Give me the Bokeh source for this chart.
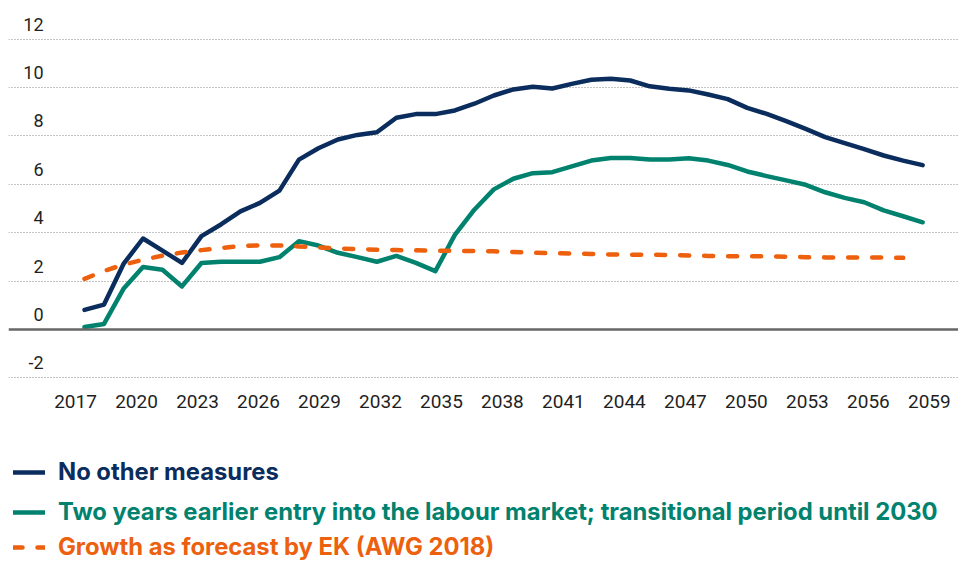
from bokeh.plotting import figure
from bokeh.models import Range1d, Span, Legend, LegendItem, FixedTicker, Grid
from bokeh.core.properties import value
from bokeh.embed import file_html
from bokeh.resources import INLINE

# ---------------- data ----------------
years = list(range(2017, 2061))
no_other_measures = [0.81, 1.03, 2.71, 3.76, 3.26, 2.75, 3.86, 4.34, 4.88, 5.23,
                     5.74, 7.02, 7.49, 7.85, 8.04, 8.15, 8.75, 8.90, 8.90, 9.05,
                     9.33, 9.67, 9.92, 10.03, 9.96, 10.15, 10.32, 10.36, 10.29, 10.05,
                     9.95, 9.88, 9.71, 9.52, 9.16, 8.91, 8.61, 8.29, 7.95, 7.70,
                     7.45, 7.19, 6.98, 6.79]
earlier_entry = [0.10, 0.23, 1.68, 2.58, 2.47, 1.78, 2.75, 2.80, 2.80, 2.80,
                 2.99, 3.65, 3.47, 3.17, 2.99, 2.80, 3.04, 2.75, 2.41, 3.91,
                 4.95, 5.79, 6.23, 6.46, 6.50, 6.74, 6.98, 7.09, 7.09, 7.02,
                 7.02, 7.08, 6.98, 6.80, 6.53, 6.34, 6.16, 5.98, 5.67, 5.44,
                 5.26, 4.92, 4.68, 4.43]
forecast_years = list(range(2017, 2060))
forecast_ek = [2.09, 2.42, 2.68, 2.88, 3.05, 3.18, 3.28, 3.37, 3.44, 3.48,
               3.47, 3.43, 3.39, 3.35, 3.32, 3.30, 3.28, 3.27, 3.26, 3.25,
               3.24, 3.23, 3.20, 3.17, 3.15, 3.14, 3.12, 3.10, 3.09, 3.09,
               3.08, 3.06, 3.04, 3.03, 3.03, 3.02, 3.01, 2.99, 2.98, 2.98,
               2.97, 2.97, 2.96]

y_ticks = [-2, 0, 2, 4, 6, 8, 10, 12]
y_tick_labels = ["-2", "0", "2", "4", "6", "8", "10", "12"]
x_tick_years = [2017, 2020, 2023, 2026, 2029, 2032, 2035, 2038, 2041, 2044,
                2047, 2050, 2053, 2056, 2059]
x_tick_labels = [str(y) for y in x_tick_years]

series_names = ["No other measures",
                "Two years earlier entry into the labour market; transitional period until 2030",
                "Growth as forecast by EK (AWG 2018)"]

# ---------------- style ----------------
NAVY = "#0a2d5d"
GREEN = "#00826e"
ORANGE = "#ec600e"
TICK_COLOR = "#1f1f1f"
FONT = "Roboto"
LEGEND_FONT = "Inter"

p = figure(width=958, height=561, output_backend="svg", toolbar_location=None,
           x_axis_location=None, y_axis_location=None,
           x_range=Range1d(2013.10, 2061.84), y_range=Range1d(-9.587, 13.595),
           min_border_left=8, min_border_right=0, min_border_top=0, min_border_bottom=0)
p.extra_x_ranges = {"labels": Range1d(2013.704, 2060.433)}
p.outline_line_color = None
p.background_fill_color = "white"
p.border_fill_color = "white"
p.xgrid.visible = False
p.ygrid.visible = False

grid = Grid(dimension=1, ticker=FixedTicker(ticks=[t for t in y_ticks if t != 0]),
            grid_line_color="#8a8a8a", grid_line_width=1, grid_line_dash="1 2")
p.add_layout(grid, "center")
p.add_layout(Span(location=0, dimension="width", line_color="#666666", line_width=2.5))

# y tick labels
p.text(x=[p.x_range.start] * len(y_ticks), y=y_ticks, text=y_tick_labels,
       x_offset=35, y_offset=-15, text_align="right", text_baseline="alphabetic",
       text_font=value(FONT), text_font_size="18px", text_color=TICK_COLOR)

# x tick labels
p.text(x=x_tick_years, y=[min(y_ticks)] * len(x_tick_years), text=x_tick_labels,
       x_range_name="labels", y_offset=24, text_align="center", text_baseline="alphabetic",
       text_font=value(FONT), text_font_size="19px", text_color=TICK_COLOR)

r1 = p.line(years, no_other_measures, line_color=NAVY, line_width=4.5,
            line_cap="round", line_join="round")
r2 = p.line(years, earlier_entry, line_color=GREEN, line_width=4.5,
            line_cap="round", line_join="round")
r3 = p.line(forecast_years, forecast_ek, line_color=ORANGE, line_width=4.5,
            line_dash="9 15", line_cap="round", line_join="round")

for name, rend, col, vy in [(series_names[0], r1, NAVY, 75),
                            (series_names[1], r2, GREEN, 35),
                            (series_names[2], r3, ORANGE, 0)]:
    lg = Legend(items=[LegendItem(label=name, renderers=[rend])],
                location=(5, vy), padding=0, margin=0, spacing=0,
                glyph_width=32, glyph_height=26, label_height=26, label_standoff=13,
                label_text_font=LEGEND_FONT, label_text_font_style="bold",
                label_text_font_size="23.8px", label_text_color=col,
                border_line_alpha=0, background_fill_alpha=0)
    p.add_layout(lg, "center")

open("out.html", "w").write(file_html(p, INLINE))
